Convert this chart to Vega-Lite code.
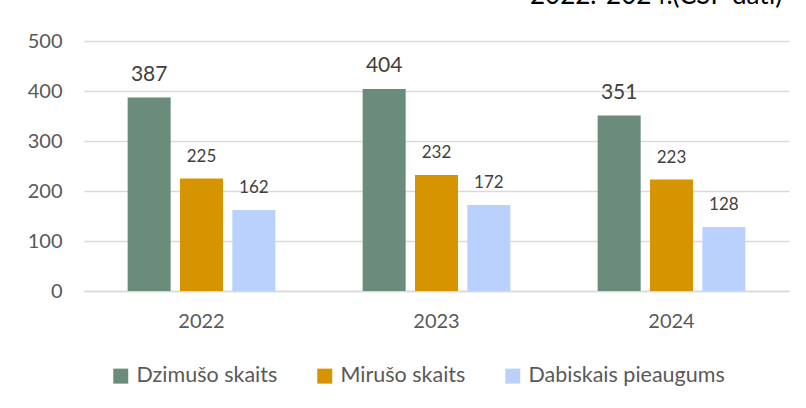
{
  "$schema": "https://vega.github.io/schema/vega-lite/v6.json",
  "width": 705,
  "height": 250,
  "autosize": {"type": "none"},
  "padding": {"left": 84, "top": 41, "right": 17, "bottom": 117},
  "background": "white",
  "title": {
    "text": "2022.-2024.(CSP dati)",
    "anchor": "start",
    "frame": "group",
    "orient": "top",
    "baseline": "alphabetic",
    "offset": 22,
    "dx": 446,
    "dy": 21,
    "font": "Lato",
    "fontSize": 26,
    "fontWeight": "normal",
    "color": "#000000"
  },
  "data": {
    "values": [
      {"year": "2022", "series": "Dzimušo skaits", "value": 387},
      {"year": "2022", "series": "Mirušo skaits", "value": 225},
      {"year": "2022", "series": "Dabiskais pieaugums", "value": 162},
      {"year": "2023", "series": "Dzimušo skaits", "value": 404},
      {"year": "2023", "series": "Mirušo skaits", "value": 232},
      {"year": "2023", "series": "Dabiskais pieaugums", "value": 172},
      {"year": "2024", "series": "Dzimušo skaits", "value": 351},
      {"year": "2024", "series": "Mirušo skaits", "value": 223},
      {"year": "2024", "series": "Dabiskais pieaugums", "value": 128}
    ]
  },
  "encoding": {
    "x": {
      "field": "year",
      "type": "nominal",
      "scale": {"paddingInner": 0, "paddingOuter": 0},
      "axis": {
        "title": null,
        "labelAngle": 0,
        "labelFont": "Lato",
        "labelFontSize": 20,
        "labelColor": "#595959",
        "labelPadding": 20,
        "ticks": false,
        "domain": true,
        "domainColor": "#D9D9D9",
        "domainWidth": 1.5,
        "grid": false
      }
    },
    "xOffset": {
      "field": "series",
      "type": "nominal",
      "sort": ["Dzimušo skaits", "Mirušo skaits", "Dabiskais pieaugums"],
      "scale": {
        "domain": ["Dzimušo skaits", "Mirušo skaits", "Dabiskais pieaugums"],
        "paddingInner": 0.178,
        "paddingOuter": 0.834
      }
    },
    "y": {
      "field": "value",
      "type": "quantitative",
      "scale": {"domain": [0, 500]},
      "axis": {
        "title": null,
        "values": [0, 100, 200, 300, 400, 500],
        "labelFont": "Lato",
        "labelFontSize": 20,
        "labelColor": "#595959",
        "labelPadding": 22,
        "ticks": false,
        "domain": false,
        "gridColor": "#D9D9D9",
        "gridWidth": 1.5
      }
    }
  },
  "layer": [
    {
      "mark": {"type": "bar"},
      "encoding": {
        "color": {
          "field": "series",
          "type": "nominal",
          "sort": ["Dzimušo skaits", "Mirušo skaits", "Dabiskais pieaugums"],
          "scale": {
            "domain": ["Dzimušo skaits", "Mirušo skaits", "Dabiskais pieaugums"],
            "range": ["#6b8c7b", "#d69500", "#bad1fd"]
          },
          "legend": {
            "title": null,
            "orient": "none",
            "legendX": 26,
            "legendY": 324,
            "direction": "horizontal",
            "symbolType": "square",
            "symbolSize": 225,
            "symbolStrokeWidth": 0,
            "labelFont": "Lato",
            "labelFontSize": 21.5,
            "labelColor": "#595959",
            "labelOffset": 5,
            "labelLimit": 400,
            "columnPadding": 36
          }
        }
      }
    },
    {
      "transform": [{"filter": "datum.series === 'Dzimušo skaits'"}],
      "mark": {"type": "text", "baseline": "alphabetic", "dy": -17, "font": "Lato", "fontSize": 21, "color": "#404040"},
      "encoding": {
        "text": {"field": "value", "type": "quantitative"}
      }
    },
    {
      "transform": [{"filter": "datum.series !== 'Dzimušo skaits'"}],
      "mark": {"type": "text", "baseline": "alphabetic", "dy": -17, "font": "Lato", "fontSize": 17, "color": "#404040"},
      "encoding": {
        "text": {"field": "value", "type": "quantitative"}
      }
    }
  ],
  "config": {
    "view": {"stroke": null}
  }
}
